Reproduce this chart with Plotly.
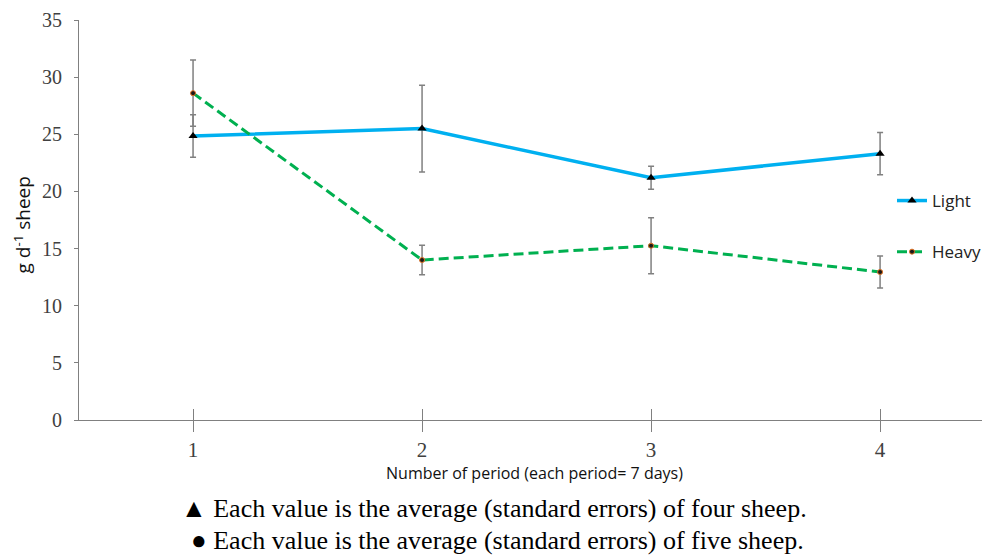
import plotly.graph_objects as go

periods = [1, 2, 3, 4]
period_labels = ["1", "2", "3", "4"]
light = [24.85, 25.5, 21.2, 23.3]
light_se = [1.85, 3.8, 1.0, 1.85]
heavy = [28.6, 14.0, 15.25, 12.95]
heavy_se = [2.9, 1.3, 2.45, 1.4]
y_ticks = [0, 5, 10, 15, 20, 25, 30, 35]

# page body has an 8px margin; the figure is sized to fill the rest of the window
W, H = 982, 548
ML, MT, MB, MR = 71, 12, 136, 0
PW, PH = W - ML - MR, H - MT - MB


def px_to_paper(fx, fy):
    return (fx - ML) / PW, (H - MB - fy) / PH


fig = go.Figure()
fig.add_trace(go.Scatter(
    x=periods, y=light, name="Light", mode="lines+markers", legendgroup="l",
    line=dict(color="#00B0F0", width=3.5),
    marker=dict(symbol="triangle-up", size=8, color="#000000"),
    error_y=dict(type="data", array=light_se, color="#808080", thickness=1.5, width=3),
))
fig.add_trace(go.Scatter(
    x=periods, y=heavy, name="Heavy", mode="lines+markers", legendgroup="h",
    line=dict(color="#00B050", width=3, dash="10px,5px"),
    marker=dict(symbol="circle", size=5, color="#1a1a1a", line=dict(color="#E07020", width=1)),
    error_y=dict(type="data", array=heavy_se, color="#808080", thickness=1.5, width=3),
))
# invisible trace on overlay axis for inside (upward) x ticks
fig.add_trace(go.Scatter(x=periods, y=[None] * 4, xaxis="x2", showlegend=False, hoverinfo="skip"))

lx, ly = px_to_paper(884, 175)
a1x, a1y = px_to_paper(485.5, 501)
a2x, a2y = px_to_paper(489.5, 532)
tx, ty = px_to_paper(14.5, 217)

fig.update_layout(
    width=W, height=H,
    margin=dict(l=ML, r=MR, t=MT, b=MB, autoexpand=False),
    plot_bgcolor="white", paper_bgcolor="white",
    showlegend=True,
    legend=dict(x=lx, y=ly, xanchor="left", yanchor="top", traceorder="grouped",
                tracegroupgap=26, font=dict(family="Open Sans", size=17, color="#222"),
                bgcolor="rgba(0,0,0,0)"),
    xaxis=dict(range=[0.502, 4.48], tickvals=periods, ticktext=period_labels,
               showgrid=False, zeroline=False, showline=True, linecolor="#808080", linewidth=1.2,
               ticks="outside", ticklen=11, tickcolor="#808080", tickwidth=1.2,
               tickfont=dict(family="Liberation Serif", size=21, color="#404040"),
               title=dict(text="Number of period (each period= 7 days)", standoff=0,
                          font=dict(family="Open Sans", size=16, color="#111"))),
    xaxis2=dict(range=[0.502, 4.48], tickvals=periods, overlaying="x", anchor="y",
                showgrid=False, zeroline=False, showline=False, showticklabels=False,
                ticks="inside", ticklen=11, tickcolor="#808080", tickwidth=1.2),
    yaxis=dict(range=[0, 35], tickvals=y_ticks, showgrid=False, zeroline=False,
               showline=True, linecolor="#808080", linewidth=1.2,
               ticks="outside", ticklen=4, tickcolor="#808080",
               ticklabelstandoff=8, ticklabeloverflow="allow",
               tickfont=dict(family="Liberation Serif", size=20, color="#404040")),
    annotations=[
        dict(text="g d<sup>-1</sup> sheep", x=tx, y=ty, xref="paper", yref="paper",
             showarrow=False, textangle=-90, xanchor="center", yanchor="middle",
             font=dict(family="Open Sans", size=19, color="#111")),
        dict(text="▲ Each value is the average (standard errors) of four sheep.",
             x=a1x, y=a1y, xref="paper", yref="paper", showarrow=False, yanchor="middle",
             font=dict(family="Liberation Serif", size=26, color="#000")),
        dict(text="● Each value is the average (standard errors) of five sheep.",
             x=a2x, y=a2y, xref="paper", yref="paper", showarrow=False, yanchor="middle",
             font=dict(family="Liberation Serif", size=26, color="#000")),
    ],
)

fig.write_html("out.html")
